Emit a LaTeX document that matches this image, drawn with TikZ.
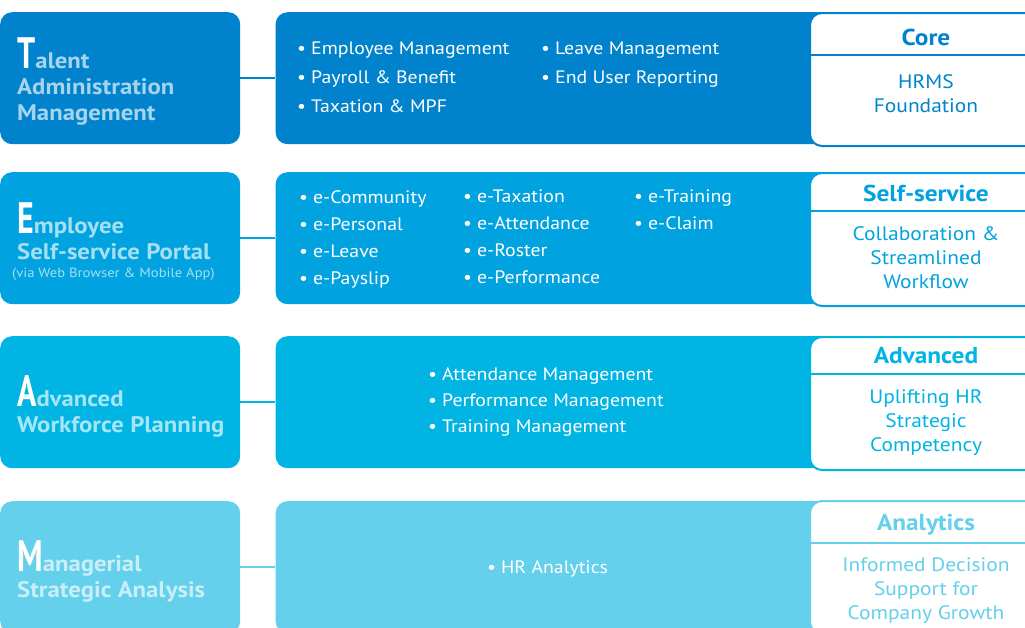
\documentclass[tikz,border=0pt]{standalone}
\usepackage{fontspec}
\setmainfont{PT Sans}[FakeStretch=1.1]
\usetikzlibrary{positioning, calc}
\definecolor{coreblue}{HTML}{0083CC}
\definecolor{selfblue}{HTML}{00A3DF}
\definecolor{advblue}{HTML}{00B4E4}
\definecolor{anablue}{HTML}{64D0EC}
\newcommand{\firstletter}[1]{{\color{white}\fontsize{44}{44}\selectfont\bfseries\scalebox{0.66}[1]{#1}}}
\newcommand{\bul}{\textbullet\hspace{5pt}}
\tikzset{
  titlebox/.style={fill=#1, rounded corners=12, minimum width=240, minimum height=132, anchor=north west},
  modulebox/.style={fill=#1, rounded corners=12, minimum width=620, minimum height=132},
  levelbox/.style={draw=#1, line width=2, fill=white, rounded corners=12, minimum width=232, minimum height=133, anchor=north west},
  titletext/.style={text=white!65!#1, align=left, anchor=north west, font=\fontsize{22.5}{26}\selectfont\bfseries},
  items/.style={text=white, align=left, anchor=north west, font=\fontsize{18}{29}\selectfont},
  levelhead/.style={text=#1, font=\fontsize{23}{26}\selectfont\bfseries},
  levelbody/.style={text=#1, align=center, anchor=north, font=\fontsize{19.5}{24}\selectfont},
  levelrule/.style={draw=#1, line width=2},
  link/.style={draw=#1, line width=2},
  every node/.style={inner sep=0}
}
\begin{document}
\begin{tikzpicture}[x=1pt, y=-1pt]
  \useasboundingbox (0,0) rectangle (1025,627);
  \clip (0,0) rectangle (1025,627);
  % Talent Administration Management
  \node[titlebox=coreblue] (tam) at (0,12) {};
  \node[modulebox=coreblue, right=35pt of tam] (tammod) {};
  \draw[link=coreblue] (tam) -- (tammod);
  \node[titletext=coreblue] (tamlabel) at (17,37) {\firstletter{T}alent\\Administration\\Management};
  \node[items] (tamlistA) at (297,42) {\bul Employee Management\\\bul Payroll \& Benefit\\\bul Taxation \& MPF};
  \node[items] (tamlistB) at (541,42) {\bul Leave Management\\\bul End User Reporting};
  \node[levelbox=coreblue] (core) at (809,12) {};
  \node[levelhead=coreblue] (corehead) at ($(core.north)+(0,25)$) {Core};
  \draw[levelrule=coreblue] ($(core.north west)+(0,43)$) -- ($(core.north east)+(0,43)$);
  \node[levelbody=coreblue] (corebody) at ($(core.north)+(0,62)$) {HRMS\\Foundation};
  % Employee Self-service Portal
  \node[titlebox=selfblue] (esp) at (0,172) {};
  \node[modulebox=selfblue, right=35pt of esp] (espmod) {};
  \draw[link=selfblue] (esp) -- (espmod);
  \node[titletext=selfblue] (esplabel) at (17,202) {\firstletter{E}mployee\\Self-service Portal\\[-8pt]
    {\mdseries\fontsize{13.3}{16}\selectfont\hspace{-5pt}(via Web Browser \& Mobile App)}};
  \node[items, font=\fontsize{18}{27}\selectfont] (esplistA) at (299,190) {\bul e-Community\\\bul e-Personal\\\bul e-Leave\\\bul e-Payslip};
  \node[items, font=\fontsize{18}{27}\selectfont] (esplistB) at (463,190) {\bul e-Taxation\\\bul e-Attendance\\\bul e-Roster\\\bul e-Performance};
  \node[items, font=\fontsize{18}{27}\selectfont] (esplistC) at (634,190) {\bul e-Training\\\bul e-Claim};
  \node[levelbox=selfblue] (self) at (809,172) {};
  \node[levelhead=selfblue] (selfhead) at ($(self.north)+(0,21)$) {Self-service};
  \draw[levelrule=selfblue] ($(self.north west)+(0,39)$) -- ($(self.north east)+(0,39)$);
  \node[levelbody=selfblue] (selfbody) at ($(self.north)+(0,54)$) {Collaboration \&\\Streamlined\\Workflow};
  % Advanced Workforce Planning
  \node[titlebox=advblue] (awp) at (0,336) {};
  \node[modulebox=advblue, right=35pt of awp] (awpmod) {};
  \draw[link=advblue] (awp) -- (awpmod);
  \node[titletext=advblue] (awplabel) at (17,375) {\firstletter{A}dvanced\\Workforce Planning};
  \node[items, font=\fontsize{18}{26}\selectfont] (awplist) at (428,367) {\bul Attendance Management\\\bul Performance Management\\\bul Training Management};
  \node[levelbox=advblue] (adv) at (809,336) {};
  \node[levelhead=advblue] (advhead) at ($(adv.north)+(0,20)$) {Advanced};
  \draw[levelrule=advblue] ($(adv.north west)+(0,38)$) -- ($(adv.north east)+(0,38)$);
  \node[levelbody=advblue] (advbody) at ($(adv.north)+(0,53)$) {Uplifting HR\\Strategic\\Competency};
  % Managerial Strategic Analysis
  \node[titlebox=anablue] (msa) at (0,501) {};
  \node[modulebox=anablue, right=35pt of msa] (msamod) {};
  \draw[link=anablue] (msa) -- (msamod);
  \node[titletext=anablue] (msalabel) at (17,540) {\firstletter{M}anagerial\\Strategic Analysis};
  \node[items] (msalist) at (487,560) {\bul HR Analytics};
  \node[levelbox=anablue] (ana) at (809,500) {};
  \node[levelhead=anablue] (anahead) at ($(ana.north)+(0,25)$) {Analytics};
  \draw[levelrule=anablue] ($(ana.north west)+(0,43)$) -- ($(ana.north east)+(0,43)$);
  \node[levelbody=anablue] (anabody) at ($(ana.north)+(0,57)$) {Informed Decision\\Support for\\Company Growth};
\end{tikzpicture}
\end{document}
